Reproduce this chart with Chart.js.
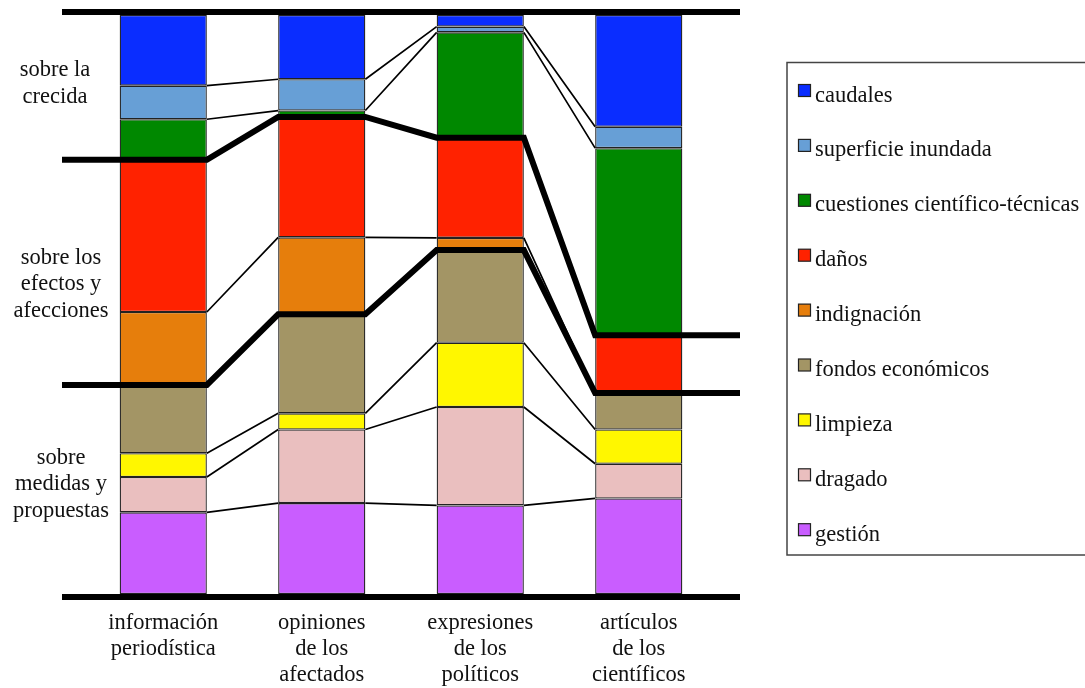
<!DOCTYPE html>
<html>
<head>
<meta charset="utf-8">
<script src="https://cdn.jsdelivr.net/npm/chart.js@4/dist/chart.umd.min.js"></script>
<style>
  html, body { margin: 0; padding: 0; background: #fff; }
  #wrap { width: 1085px; height: 688px; position: relative; }
</style>
</head>
<body>
<div id="wrap"><canvas id="myChart"></canvas></div>
<script>
// Categories on the x axis (one entry per line)
const categories = [
    ['información', 'periodística'],
    ['opiniones', 'de los', 'afectados'],
    ['expresiones', 'de los', 'políticos'],
    ['artículos', 'de los', 'científicos']
];

// Series, top to bottom as in the legend
const seriesNames = ['caudales', 'superficie inundada', 'cuestiones científico-técnicas', 'daños',
    'indignación', 'fondos económicos', 'limpieza', 'dragado', 'gestión'];
const seriesColors = ['#0a2dff', '#679fd6', '#008800', '#ff2200', '#e67e0c', '#a39565', '#fff700', '#eabfbf', '#c95dff'];

// Share of each series in every category (%)
const caudales    = [12.2, 11.1,  2.0, 19.3];
const superficie  = [ 5.8,  5.4,  1.0,  3.7];
const cuestiones  = [ 7.0,  1.1, 18.2, 32.3];
const danos       = [26.3, 20.8, 17.3, 10.0];
const indignacion = [12.6, 13.3,  2.1,  0.0];
const fondos      = [11.8, 17.1, 16.0,  6.3];
const limpieza    = [ 4.1,  2.8, 11.1,  5.9];
const dragado     = [ 6.1, 12.7, 17.0,  6.0];
const gestion     = [14.1, 15.7, 15.3, 16.5];
const seriesValues = [caudales, superficie, cuestiones, danos, indignacion, fondos, limpieza, dragado, gestion];

// Groups of series (labels on the left), thick line after these many series
const groupLabels = [['sobre la', 'crecida'], ['sobre los', 'efectos y', 'afecciones'], ['sobre', 'medidas y', 'propuestas']];
const groupBreaks = [3, 5];

const serif = '"Liberation Serif", "Times New Roman", serif';

// stacked bars grow from the bottom, so the last series goes first
const datasets = seriesNames.map((name, i) => ({
    label: name,
    data: seriesValues[i],
    backgroundColor: seriesColors[i],
    borderColor: '#222',
    borderWidth: 1.3,
    borderSkipped: false,
    barPercentage: 0.55,
    categoryPercentage: 1
})).reverse();

// lines that join the bars, plus the thick rails
const flowLines = {
    id: 'flowLines',
    afterDatasetsDraw(chart) {
        const { ctx, chartArea, scales: { y } } = chart;
        const bars = chart.getDatasetMeta(0).data;
        const edges = bars.map(b => [b.x - b.width / 2, b.x + b.width / 2]);
        ctx.save();
        ctx.strokeStyle = '#000';
        ctx.lineJoin = 'miter';
        for (let k = 1; k < seriesNames.length; k++) {
            const ys = categories.map((c, i) =>
                y.getPixelForValue(100 - seriesValues.slice(0, k).reduce((s, v) => s + v[i], 0)));
            ctx.beginPath();
            if (groupBreaks.includes(k)) {
                ctx.lineWidth = 6;
                ctx.moveTo(chartArea.left - 22, ys[0]);
                ys.forEach((yy, i) => { ctx.lineTo(edges[i][0], yy); ctx.lineTo(edges[i][1], yy); });
                ctx.lineTo(chartArea.right + 22, ys[ys.length - 1]);
            } else {
                ctx.lineWidth = 1.7;
                for (let i = 0; i < ys.length - 1; i++) {
                    ctx.moveTo(edges[i][1], ys[i]);
                    ctx.lineTo(edges[i + 1][0], ys[i + 1]);
                }
            }
            ctx.stroke();
        }
        // top and bottom rails
        ctx.lineWidth = 6;
        ctx.beginPath();
        ctx.moveTo(chartArea.left - 22, y.getPixelForValue(100) - 3);
        ctx.lineTo(chartArea.right + 22, y.getPixelForValue(100) - 3);
        ctx.moveTo(chartArea.left - 22, y.getPixelForValue(0) + 3);
        ctx.lineTo(chartArea.right + 22, y.getPixelForValue(0) + 3);
        ctx.stroke();
        ctx.restore();
    }
};

// group labels on the left and the boxed legend on the right
const sideText = {
    id: 'sideText',
    afterDraw(chart) {
        const ctx = chart.ctx;
        ctx.save();
        ctx.fillStyle = '#111';
        ctx.font = '22.5px ' + serif;
        ctx.textAlign = 'center';
        ctx.textBaseline = 'alphabetic';
        const groupPos = [[55, 76], [61, 263.5], [61, 463.5]];
        groupLabels.forEach((lines, g) => {
            lines.forEach((t, j) => ctx.fillText(t, groupPos[g][0], groupPos[g][1] + j * 26.8));
        });

        // legend box
        ctx.strokeStyle = '#444';
        ctx.lineWidth = 1.5;
        ctx.strokeRect(787, 62.5, 340, 492.5);
        ctx.textAlign = 'left';
        seriesNames.forEach((name, i) => {
            const cy = 90.5 + i * 54.9;
            ctx.fillStyle = seriesColors[i];
            ctx.fillRect(798.5, cy - 6, 12, 12);
            ctx.strokeStyle = '#222';
            ctx.lineWidth = 1.2;
            ctx.strokeRect(798.5, cy - 6, 12, 12);
            ctx.fillStyle = '#111';
            ctx.fillText(name, 815, cy + 11);
        });
        ctx.restore();
    }
};

const myChart = new Chart(document.getElementById('myChart'), {
    type: 'bar',
    data: { labels: categories, datasets: datasets },
    options: {
        responsive: true,
        maintainAspectRatio: false,
        animation: false,
        layout: { padding: { left: 84, right: 367, top: 15, bottom: 0 } },
        plugins: {
            legend: { display: false },
            tooltip: { enabled: false }
        },
        scales: {
            x: {
                stacked: true,
                grid: { display: false, drawTicks: false },
                border: { display: false },
                ticks: {
                    color: '#111',
                    padding: 16,
                    maxRotation: 0,
                    autoSkip: false,
                    font: { family: serif, size: 22.5, lineHeight: '26px' }
                },
                afterFit(scale) { scale.height = 94; }
            },
            y: {
                stacked: true,
                display: false,
                min: 0,
                max: 100
            }
        }
    },
    plugins: [flowLines, sideText]
});
</script>
</body>
</html>
